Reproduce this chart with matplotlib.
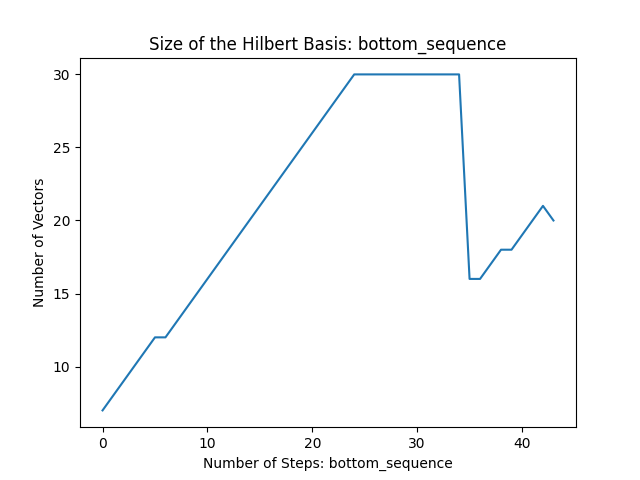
import matplotlib
matplotlib.use("Agg")
import matplotlib.pyplot as plt

# one value per step
steps = list(range(44))
vectors = [7, 8, 9, 10, 11, 12, 12, 13, 14, 15,
           16, 17, 18, 19, 20, 21, 22, 23, 24, 25,
           26, 27, 28, 29, 30, 30, 30, 30, 30, 30,
           30, 30, 30, 30, 30, 16, 16, 17, 18, 18,
           19, 20, 21, 20]

fig, ax = plt.subplots(figsize=(6.4, 4.8), dpi=100)
ax.plot(steps, vectors)
ax.set_title("Size of the Hilbert Basis: bottom_sequence")
ax.set_xlabel("Number of Steps: bottom_sequence")
ax.set_ylabel("Number of Vectors")
fig.savefig("out.png")
